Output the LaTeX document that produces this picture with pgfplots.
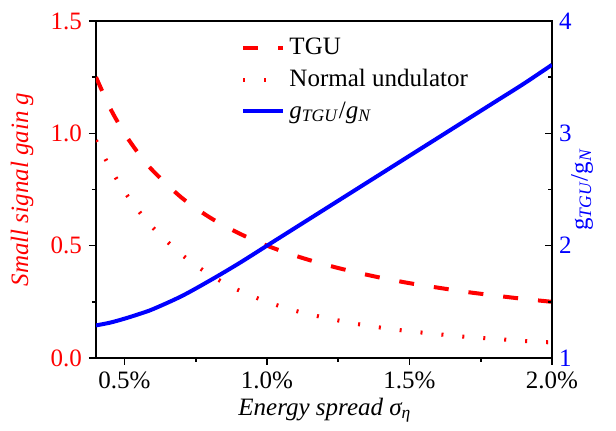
\documentclass[border=0pt]{standalone}
\usepackage{pgfplots}
\pgfplotsset{compat=1.18}
\usepackage{fontspec}
\setmainfont{Liberation Serif}
\newcommand{\figfont}{\rmfamily\fontsize{12.5}{15}\selectfont}

% energy spread (%), TGU gain, normal undulator gain, ratio g_TGU/g_N
\pgfplotstableread{
s    tgu    normal ratio
0.40 1.250  0.969  1.290
0.45 1.111  0.845  1.315
0.50 1.000  0.741  1.350
0.55 0.909  0.654  1.390
0.60 0.833  0.580  1.435
0.70 0.714  0.461  1.550
0.80 0.625  0.370  1.690
0.90 0.556  0.302  1.840
1.00 0.500  0.250  2.000
1.10 0.455  0.210  2.160
1.20 0.417  0.180  2.320
1.30 0.385  0.155  2.480
1.40 0.357  0.135  2.640
1.50 0.333  0.119  2.800
1.60 0.313  0.106  2.960
1.70 0.294  0.094  3.120
1.80 0.278  0.085  3.280
1.90 0.263  0.076  3.440
2.00 0.250  0.069  3.610
}\gaindata

\begin{document}
\begin{tikzpicture}[font=\figfont]
\pgfplotsset{
  every axis/.append style={
    width=228pt, height=168.5pt, scale only axis,
    xmin=0.4, xmax=2.0,
    axis line style={line width=0.8pt},
    every tick/.style={black, line width=0.8pt},
    major tick length=3.5pt, minor tick length=2pt,
    tick label style={font=\figfont},
    label style={font=\figfont},
    /pgf/number format/assume math mode=true,
  },
  tgu/.style={red, line width=2pt, dash pattern=on 7.5pt off 10pt},
  nrm/.style={red, line width=2pt, dash pattern=on 1pt off 9.5pt},
}
\begin{axis}[
  ymin=0, ymax=1.5,
  xtick pos=bottom, ytick pos=left,
  tick align=outside,
  xtick={0.5,1,1.5,2},
  xticklabels={0.5\%,1.0\%,1.5\%,2.0\%},
  minor xtick={0.75,1.25,1.75},
  ytick={0,0.5,1,1.5},
  minor ytick={0.25,0.75,1.25},
  yticklabel style={red, /pgf/number format/.cd, fixed, fixed zerofill, precision=1},
  ylabel={\textit{Small signal gain g}},
  ylabel style={red, at={(axis description cs:-0.162,0.5)}, anchor=center},
  xlabel={\textit{Energy spread σ\textsubscript{η}}},
  xlabel style={at={(axis description cs:0.502,-0.155)}, anchor=center},
]
\addplot[tgu, smooth] table[x=s, y=tgu] {\gaindata};
\addplot[nrm, smooth] table[x=s, y=normal] {\gaindata};
\end{axis}
\begin{axis}[
  axis x line=none,
  axis y line*=right,
  ymin=1, ymax=4,
  tick align=inside,
  ytick={1,2,3,4},
  minor ytick={1.5,2.5,3.5},
  yticklabel style={blue},
  ylabel={g\textsubscript{\textit{TGU}}/g\textsubscript{\textit{N}}},
  ylabel style={blue, at={(axis description cs:1.066,0.5)}, anchor=center},
  legend style={at={(axis description cs:0.305,0.975)}, anchor=north west,
    draw=none, fill=none, font=\figfont, row sep=2pt},
  legend cell align=left,
  legend image code/.code={\draw[#1] (0pt,0pt) -- (20pt,0pt);},
]
\addlegendimage{tgu}
\addlegendentry{TGU}
\addlegendimage{nrm}
\addlegendentry{Normal undulator}
\addplot[blue, line width=2pt, smooth] table[x=s, y=ratio] {\gaindata};
\addlegendentry{\textit{g}\textsubscript{\textit{TGU}}/\textit{g}\textsubscript{\textit{N}}}
\end{axis}
\pgfresetboundingbox
\path[use as bounding box] (-48pt,-36.5pt) rectangle (260pt,179pt);
\end{tikzpicture}
\end{document}
